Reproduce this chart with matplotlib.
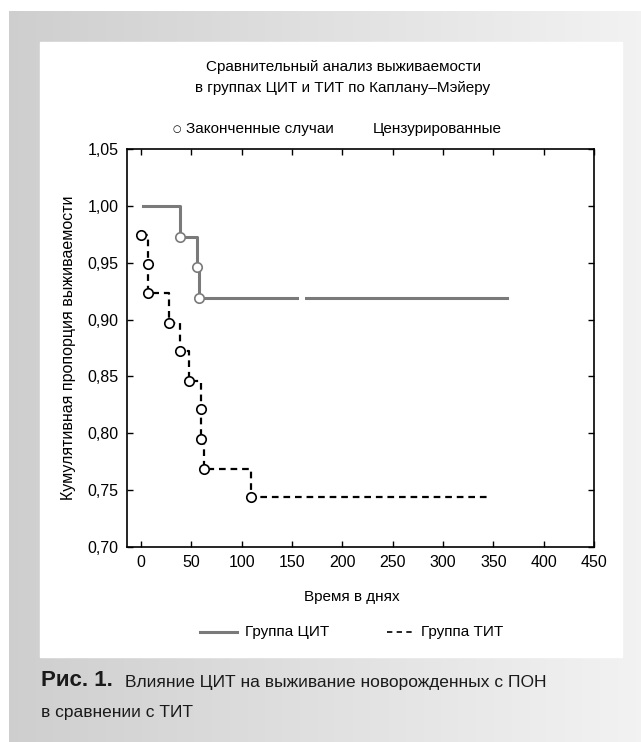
import numpy as np
import matplotlib
matplotlib.use("Agg")
import matplotlib.pyplot as plt
from matplotlib.lines import Line2D

plt.rcParams['font.family'] = ['Liberation Sans', 'DejaVu Sans']

# --- data ---
cit_t = [2, 39, 56, 58]
cit_s = [1.0, 0.973, 0.946, 0.919]
cit_end = 364
cit_cens_t = [160]

tit_t = [0, 7, 7, 28, 39, 48, 60, 60, 63, 109]
tit_s = [0.974, 0.949, 0.923, 0.897, 0.872, 0.846, 0.821, 0.795, 0.769, 0.744]
tit_end = 348

xticks = [0, 50, 100, 150, 200, 250, 300, 350, 400, 450]
yticks = [0.70, 0.75, 0.80, 0.85, 0.90, 0.95, 1.00, 1.05]
ytick_labels = ['0,70', '0,75', '0,80', '0,85', '0,90', '0,95', '1,00', '1,05']

W, H = 641, 742
fig = plt.figure(figsize=(W / 100, H / 100), dpi=100)

def fx(px):
    return px / W

def fy(py):
    return 1 - py / H

# background: grey gradient box with white panel
bg = fig.add_axes([fx(9), 0, 1 - fx(9), fy(11)], zorder=-10)
grad = np.linspace(0.81, 0.95, 256).reshape(1, -1)
bg.imshow(np.dstack([grad] * 3), aspect='auto', extent=[0, 1, 0, 1])
bg.add_patch(plt.Rectangle(((40 - 9) / (W - 9), 1 - (657 - 11) / (H - 11)),
                           (622 - 40) / (W - 9), (657 - 42) / (H - 11),
                           color='white', transform=bg.transAxes))
bg.axis('off')

ax = fig.add_axes([fx(127), fy(547), (594 - 127) / W, (547 - 149) / H])

gray = '#7a7a7a'
ax.step(cit_t + [cit_end], cit_s + [cit_s[-1]], where='post', color=gray, lw=2.2, zorder=3)
ax.plot(cit_cens_t, [cit_s[-1]] * len(cit_cens_t), 's', color='white', ms=5, mew=0, zorder=4)
ax.plot(cit_t[1:], cit_s[1:], 'o', mfc='white', mec=gray, mew=1.2, ms=6.8, zorder=5)

ax.step(tit_t + [tit_end], tit_s + [tit_s[-1]], where='post', color='black', lw=1.6,
        dashes=(3, 2.2), zorder=3)
ax.plot(tit_t, tit_s, 'o', mfc='white', mec='black', mew=1.2, ms=6.8, zorder=5)

ax.set_xlim(-14, 450)
ax.set_ylim(0.70, 1.05)
ax.set_xticks(xticks)
ax.set_yticks(yticks)
ax.set_yticklabels(ytick_labels)
ax.tick_params(direction='in', top=True, right=True, length=4, width=1,
               labelsize=11.5, pad=6)
for s in ax.spines.values():
    s.set_linewidth(1.2)

ax.set_ylabel('Кумулятивная пропорция выживаемости', fontsize=11.5, labelpad=8)
fig.text(fx(352), fy(597), 'Время в днях', ha='center', va='center', fontsize=11)

fig.text(fx(343), fy(67), 'Сравнительный анализ выживаемости',
         ha='center', va='center', fontsize=11)
fig.text(fx(343), fy(88), 'в группах ЦИТ и ТИТ по Каплану–Мэйеру',
         ha='center', va='center', fontsize=11)
fig.text(fx(177), fy(129), '○', ha='center', va='center', fontsize=7,
         family=['DejaVu Sans'])
fig.text(fx(186), fy(129), 'Законченные случаи', ha='left', va='center', fontsize=11)
fig.text(fx(373), fy(129), 'Цензурированные', ha='left', va='center', fontsize=11)

# bottom legend
fig.add_artist(Line2D([fx(200), fx(237)], [fy(632), fy(632)], color=gray, lw=2.2))
fig.text(fx(245), fy(632), 'Группа ЦИТ', ha='left', va='center', fontsize=11)
fig.add_artist(Line2D([fx(387), fx(415)], [fy(632), fy(632)], color='black', lw=1.2,
                      dashes=(3.2, 2.6)))
fig.text(fx(421), fy(632), 'Группа ТИТ', ha='left', va='center', fontsize=11)

# caption
fig.text(fx(41), fy(681), 'Рис. 1.', ha='left', va='center', fontsize=16,
         fontweight='bold', color='#1a1a1a')
fig.text(fx(125), fy(682), 'Влияние ЦИТ на выживание новорожденных с ПОН',
         ha='left', va='center', fontsize=12.5, color='#1a1a1a')
fig.text(fx(41), fy(712), 'в сравнении с ТИТ', ha='left', va='center',
         fontsize=12.5, color='#1a1a1a')

fig.savefig('out.png', dpi=100)
